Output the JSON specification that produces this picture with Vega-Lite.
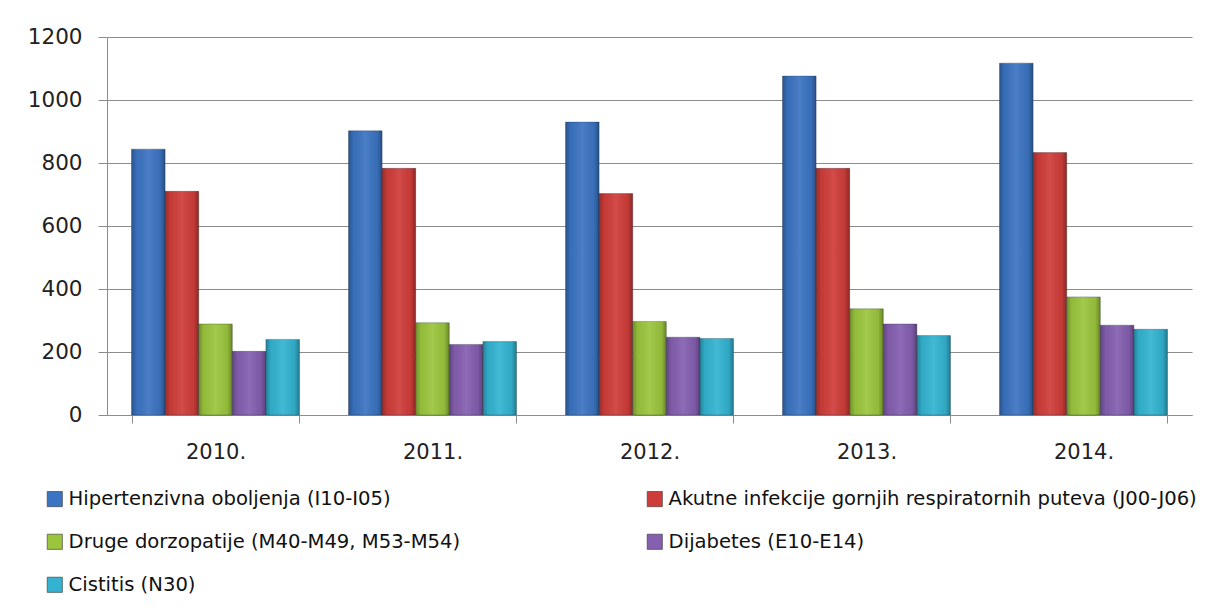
{
  "$schema": "https://vega.github.io/schema/vega-lite/v6.json",
  "width": 1085,
  "height": 378,
  "autosize": "none",
  "padding": {"left": 107, "top": 37, "right": 18, "bottom": 197},
  "background": "white",
  "config": {"view": {"stroke": null}, "font": "DejaVu Sans"},
  "data": {"values": [
    {"year": "2010.", "series": "Hipertenzivna oboljenja (I10-I05)", "value": 844},
    {"year": "2010.", "series": "Akutne infekcije gornjih respiratornih puteva (J00-J06)", "value": 710},
    {"year": "2010.", "series": "Druge dorzopatije (M40-M49, M53-M54)", "value": 289},
    {"year": "2010.", "series": "Dijabetes (E10-E14)", "value": 202},
    {"year": "2010.", "series": "Cistitis (N30)", "value": 240},
    {"year": "2011.", "series": "Hipertenzivna oboljenja (I10-I05)", "value": 902},
    {"year": "2011.", "series": "Akutne infekcije gornjih respiratornih puteva (J00-J06)", "value": 783},
    {"year": "2011.", "series": "Druge dorzopatije (M40-M49, M53-M54)", "value": 293},
    {"year": "2011.", "series": "Dijabetes (E10-E14)", "value": 224},
    {"year": "2011.", "series": "Cistitis (N30)", "value": 233},
    {"year": "2012.", "series": "Hipertenzivna oboljenja (I10-I05)", "value": 930},
    {"year": "2012.", "series": "Akutne infekcije gornjih respiratornih puteva (J00-J06)", "value": 703},
    {"year": "2012.", "series": "Druge dorzopatije (M40-M49, M53-M54)", "value": 297},
    {"year": "2012.", "series": "Dijabetes (E10-E14)", "value": 247},
    {"year": "2012.", "series": "Cistitis (N30)", "value": 243},
    {"year": "2013.", "series": "Hipertenzivna oboljenja (I10-I05)", "value": 1076},
    {"year": "2013.", "series": "Akutne infekcije gornjih respiratornih puteva (J00-J06)", "value": 783},
    {"year": "2013.", "series": "Druge dorzopatije (M40-M49, M53-M54)", "value": 337},
    {"year": "2013.", "series": "Dijabetes (E10-E14)", "value": 289},
    {"year": "2013.", "series": "Cistitis (N30)", "value": 252},
    {"year": "2014.", "series": "Hipertenzivna oboljenja (I10-I05)", "value": 1117},
    {"year": "2014.", "series": "Akutne infekcije gornjih respiratornih puteva (J00-J06)", "value": 833},
    {"year": "2014.", "series": "Druge dorzopatije (M40-M49, M53-M54)", "value": 375},
    {"year": "2014.", "series": "Dijabetes (E10-E14)", "value": 285},
    {"year": "2014.", "series": "Cistitis (N30)", "value": 272}
  ]},
  "encoding": {
    "x": {
      "field": "year", "type": "nominal", "sort": null,
      "scale": {"paddingInner": 0.226, "paddingOuter": 0.113},
      "axis": {
        "title": null, "labelAngle": 0, "labelFontSize": 21, "labelColor": "#222222",
        "domainColor": "#8c8c8c", "tickColor": "#8c8c8c", "tickSize": 8, "tickBand": "extent",
        "labelPadding": 18, "grid": false
      }
    },
    "xOffset": {
      "field": "series", "type": "nominal",
      "scale": {"domain": ["Hipertenzivna oboljenja (I10-I05)", "Akutne infekcije gornjih respiratornih puteva (J00-J06)", "Druge dorzopatije (M40-M49, M53-M54)", "Dijabetes (E10-E14)", "Cistitis (N30)"], "paddingInner": 0, "paddingOuter": 0}
    },
    "y": {
      "field": "value", "type": "quantitative",
      "scale": {"domain": [0, 1200]},
      "axis": {
        "title": null, "values": [0, 200, 400, 600, 800, 1000, 1200], "format": "d",
        "labelFontSize": 21.5, "labelColor": "#222222", "labelPadding": 16,
        "grid": true, "gridColor": "#8c8c8c", "gridWidth": 1,
        "domainColor": "#8c8c8c", "tickColor": "#8c8c8c", "tickSize": 9
      }
    }
  },
  "layer": [
    {
      "mark": {"type": "bar", "stroke": "#1e2a3a", "strokeWidth": 0.6, "strokeOpacity": 0.5},
      "encoding": {
        "color": {
          "field": "series", "type": "nominal",
          "scale": {
            "domain": ["Hipertenzivna oboljenja (I10-I05)", "Druge dorzopatije (M40-M49, M53-M54)", "Cistitis (N30)", "Akutne infekcije gornjih respiratornih puteva (J00-J06)", "Dijabetes (E10-E14)"],
            "range": ["#3b74c2", "#9bc53d", "#33b3d1", "#cf3d3a", "#855fb0"]
          },
          "legend": {
            "title": null, "orient": "none", "legendX": -62, "legendY": 452,
            "columns": 2, "columnPadding": 184, "rowPadding": 22,
            "symbolType": "square", "symbolSize": 230, "symbolStrokeWidth": 0.6, "symbolStrokeColor": "#333333",
            "labelFontSize": 19.6, "labelColor": "#111111", "labelLimit": 800, "labelOffset": 4
          }
        }
      }
    },
    {
      "mark": {
        "type": "bar",
        "fill": {
          "gradient": "linear", "x1": 0, "x2": 1, "y1": 0, "y2": 0,
          "stops": [
            {"offset": 0, "color": "rgba(0,0,0,0.28)"},
            {"offset": 0.15, "color": "rgba(0,0,0,0.05)"},
            {"offset": 0.5, "color": "rgba(255,255,255,0.08)"},
            {"offset": 0.85, "color": "rgba(0,0,0,0.06)"},
            {"offset": 1, "color": "rgba(0,0,0,0.32)"}
          ]
        }
      }
    }
  ]
}
